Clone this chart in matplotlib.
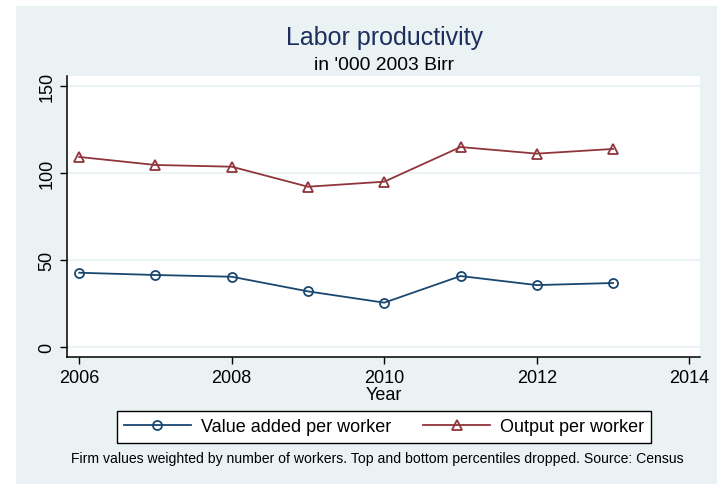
import matplotlib
matplotlib.use("Agg")
import matplotlib.pyplot as plt
from matplotlib.patches import Rectangle

# data
years = [2006, 2007, 2008, 2009, 2010, 2011, 2012, 2013]
value_added = [42.7, 41.4, 40.4, 32.0, 25.5, 40.8, 35.6, 36.8]
output_pw = [109.2, 104.6, 103.6, 92.1, 95.0, 114.9, 111.1, 113.8]
x_ticks = [2006, 2008, 2010, 2012, 2014]
y_ticks = [0, 50, 100, 150]

navy = "#1a476f"
maroon = "#90353b"
bg = "#eaf2f3"

plt.rcParams['font.family'] = ['Liberation Sans', 'DejaVu Sans']

W, H = 717, 489
fig = plt.figure(figsize=(W / 100, H / 100), dpi=100)
fig.patch.set_facecolor("white")
fig.patches.append(Rectangle((16 / W, 4 / H), 1 - 16 / W, 1 - 11 / H,
                             transform=fig.transFigure, facecolor=bg,
                             edgecolor="none", zorder=-10))

ax = fig.add_axes([67 / W, 1 - 358 / H, (700 - 67) / W, (358 - 77) / H])
ax.set_facecolor("white")

ax.plot(years, value_added, "-o", color=navy, lw=1.3, ms=6.5, mfc="none",
        mew=1.3, label="Value added per worker")
ax.plot(years, output_pw, "-^", color=maroon, lw=1.3, ms=6.5, mfc="none",
        mew=1.3, label="Output per worker")

ax.set_xlim(2005.84, 2014.14)
ax.set_ylim(-5.7, 155.7)
ax.set_xticks(x_ticks)
ax.set_yticks(y_ticks)
ax.set_yticklabels([str(t) for t in y_ticks], rotation=90, va="center")
ax.tick_params(axis="both", labelsize=13, length=5, width=1, direction="out")
ax.yaxis.grid(True, color=bg, lw=1.3)
ax.set_axisbelow(True)
for s in ["top", "right"]:
    ax.spines[s].set_visible(False)
ax.spines["left"].set_linewidth(1.1)
ax.spines["bottom"].set_linewidth(1.1)
ax.set_xlabel("Year", fontsize=13, labelpad=0)

fig.text(385 / W, 1 - 38 / H, "Labor productivity", ha="center", va="center",
         fontsize=18, color="#1e2f5e")
fig.text(384 / W, 1 - 65 / H, "in '000 2003 Birr", ha="center", va="center",
         fontsize=13.9)

leg = ax.legend(loc="center", bbox_to_anchor=(384 / W, 1 - 428 / H),
                bbox_transform=fig.transFigure, ncol=2, fontsize=13,
                frameon=True, fancybox=False, edgecolor="black",
                framealpha=1, handlelength=3.7, handletextpad=0.55,
                columnspacing=1.8, borderpad=0.4)
leg.get_frame().set_linewidth(1.0)

fig.text(377 / W, 1 - 459 / H,
         "Firm values weighted by number of workers. Top and bottom percentiles dropped. Source: Census",
         ha="center", va="center", fontsize=10.1)

fig.savefig("out.png", dpi=100)
